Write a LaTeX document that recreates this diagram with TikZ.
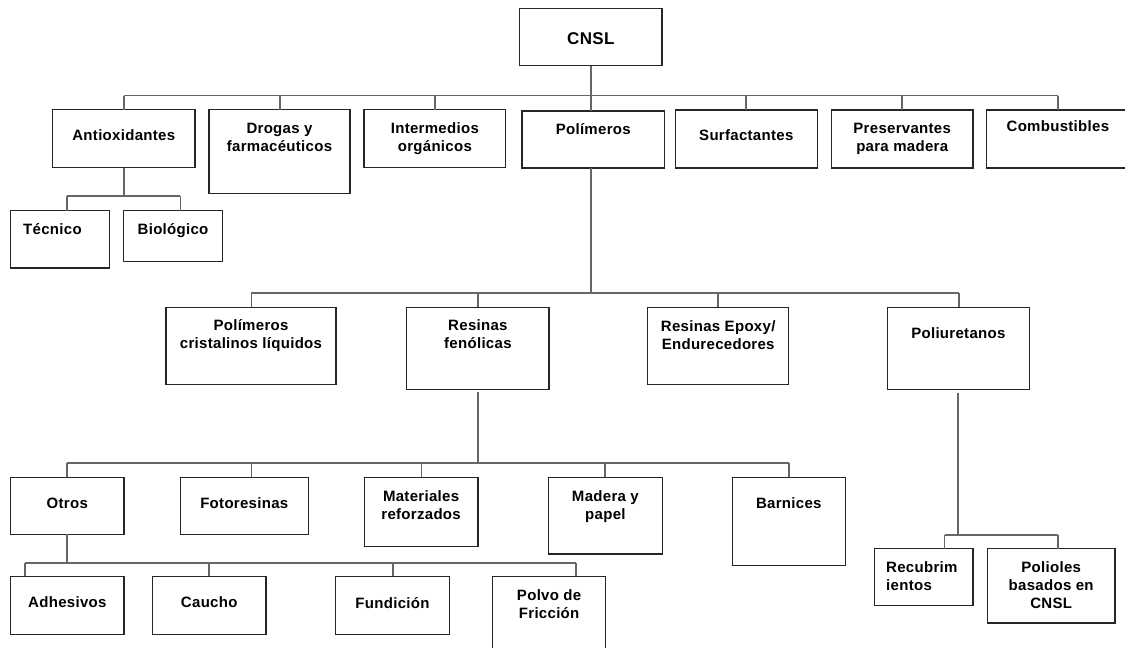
\documentclass[tikz,border=0pt]{standalone}
\usepackage{fontspec}
\setmainfont{Liberation Sans}[LetterSpace=2]
\begin{document}
\begin{tikzpicture}[x=1pt,y=-1pt,
  box/.style={draw=black!85, line width=1.2pt, inner sep=0pt, outer sep=0pt,
    font=\fontsize{15}{18.3}\selectfont\bfseries},
  big/.style={font=\fontsize{17}{20.5}\selectfont\bfseries},
  conn/.style={draw=black!60, line width=1.8pt}]
\newcommand\bx[9][]{%
  \node[box,#1] (#2) at ({(#3+#5)/2},{(#4+#6)/2})
  {\parbox[t][\dimexpr #6pt-#4pt\relax][t]{\dimexpr #5pt-#3pt\relax}{#8\vspace*{\dimexpr #7pt-13.5pt\relax}\strut #9}};}
\newcommand\drp[3]{\draw[conn] (#1,#2) -- (#1,#2 |- #3.north);}
\clip (0,0) rectangle (1125,648);
\fill[white] (0,0) rectangle (1125,648);
% level 0
\bx[big]{cnsl}{519.6}{8.4}{662}{65.8}{35.5}{\centering}{CNSL}
% level 1
\bx{anti}{52.5}{109.7}{195}{167.7}{31}{\centering}{Antioxidantes}
\bx{drog}{209}{109.7}{350}{193.7}{24}{\centering}{Drogas y\\farmacéuticos}
\bx{inte}{364}{109.7}{505.7}{167.7}{24}{\centering}{Intermedios\\orgánicos}
\bx{poly}{522}{111}{664.5}{168}{24}{\centering}{Polímeros}
\bx{surf}{675.3}{110}{817.3}{168}{31}{\centering}{Surfactantes}
\bx{pres}{831.4}{110}{973}{168}{24}{\centering}{Preservantes\\para madera}
\bx{comb}{986.7}{110}{1129}{168}{22.6}{\centering}{Combustibles}
% antioxidantes children
\bx{tec}{10.7}{210.6}{109.6}{268}{24.6}{\raggedright\leftskip=12.5pt}{Técnico}
\bx{bio}{123.6}{210.6}{222.5}{261.6}{24.6}{\centering}{Biológico}
% level 2
\bx{pcl}{166}{307.3}{336}{384.3}{24}{\centering}{Polímeros\\cristalinos líquidos}
\bx{rf}{406.8}{307.3}{549}{389.7}{24}{\centering}{Resinas\\fenólicas}
\bx{epo}{647.6}{307.3}{788.8}{384.3}{24.4}{\centering}{Resinas Epoxy/\\Endurecedores}
\bx{pu}{887.2}{307.3}{1029.5}{389.7}{31.7}{\centering}{Poliuretanos}
% level 3
\bx{otr}{10.7}{477.3}{124}{534.3}{31.7}{\centering}{Otros}
\bx{fot}{180.4}{477.3}{308.2}{534.3}{31.7}{\centering}{Fotoresinas}
\bx{mat}{364.3}{477.3}{477.9}{546.7}{24.4}{\centering}{Materiales\\reforzados}
\bx{mad}{548.5}{477.3}{662.3}{554}{24.4}{\centering}{Madera y\\papel}
\bx{bar}{732.2}{477.3}{845.4}{565.3}{31.7}{\centering}{Barnices}
% level 4
\bx{adh}{10.7}{576.3}{124}{634.3}{32}{\centering}{Adhesivos}
\bx{cau}{152.5}{576.3}{266}{634.3}{32}{\centering}{Caucho}
\bx{fun}{335.7}{576.3}{449.3}{634.3}{33}{\centering}{Fundición}
\bx{pdf}{492.5}{576.3}{605.8}{660}{24.4}{\centering}{Polvo de\\Fricción}
% poliuretanos children
\bx{rec}{874.2}{548.7}{973}{605.3}{24}{\raggedright\leftskip=12pt}{Recubrim\\ientos}
\bx{pcn}{987.4}{548.7}{1115}{623}{24}{\centering}{Polioles\\basados en\\CNSL}
% connectors: CNSL
\draw[conn] (cnsl.south) -- (cnsl.south |- 0,95.5);
\draw[conn] (123.6,95.5) -- (1058,95.5);
\drp{123.6}{95.5}{anti}
\drp{279.6}{95.5}{drog}
\drp{435}{95.5}{inte}
\drp{590.6}{95.5}{poly}
\drp{746.3}{95.5}{surf}
\drp{902.3}{95.5}{pres}
\drp{1058}{95.5}{comb}
% antioxidantes
\draw[conn] (anti.south) -- (anti.south |- 0,195.7);
\draw[conn] (67,195.7) -- (180.4,195.7);
\drp{67}{195.7}{tec}
\drp{180.4}{195.7}{bio}
% polimeros
\draw[conn] (590.6,0 |- poly.south) -- (590.6,293.3);
\draw[conn] (251.4,293.3) -- (958.6,293.3);
\drp{251.4}{293.3}{pcl}
\drp{477.9}{293.3}{rf}
\drp{717.8}{293.3}{epo}
\drp{958.6}{293.3}{pu}
% resinas fenolicas
\draw[conn, shorten <=2.6pt] (rf.south) -- (rf.south |- 0,463);
\draw[conn] (67,463) -- (788.8,463);
\drp{67}{463}{otr}
\drp{251.4}{463}{fot}
\drp{421.4}{463}{mat}
\drp{605}{463}{mad}
\drp{788.8}{463}{bar}
% otros
\draw[conn] (otr.south) -- (otr.south |- 0,563);
\draw[conn] (25,563) -- (576.2,563);
\drp{25}{563}{adh}
\drp{209}{563}{cau}
\drp{392.9}{563}{fun}
\drp{576.2}{563}{pdf}
% poliuretanos
\draw[conn, shorten <=3pt] (pu.south) -- (pu.south |- 0,535);
\draw[conn] (944.5,535) -- (1058,535);
\drp{944.5}{535}{rec}
\drp{1058}{535}{pcn}
\end{tikzpicture}
\end{document}
